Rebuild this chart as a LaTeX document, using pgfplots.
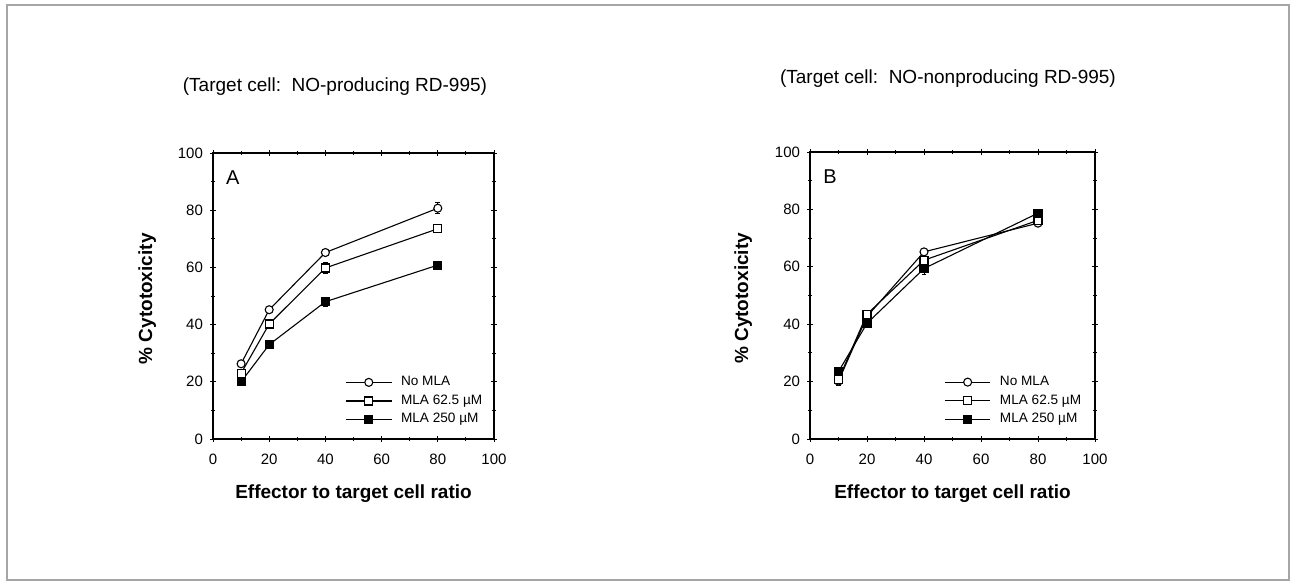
\documentclass[border=0pt]{standalone}
\usepackage{fontspec}
\setmainfont{Liberation Sans}
\usepackage{pgfplots}
\pgfplotsset{compat=1.18}

\pgfplotsset{
  cytoaxis/.style={
    scale only axis,
    anchor=south west,
    xmin=0, xmax=100, ymin=0, ymax=100,
    xtick={0,20,...,100}, ytick={0,20,...,100},
    minor x tick num=1, minor y tick num=1,
    tick align=center,
    major tick length=3pt, minor tick length=2pt,
    axis line style={line width=0.6pt},
    tick style={black, line width=0.5pt},
    tick label style={font=\fontsize{7.5}{8}\selectfont},
    /pgf/number format/assume math mode=true,
    xticklabel style={yshift=-2.5pt},
    xlabel={\textbf{Effector to target cell ratio}},
    ylabel={\textbf{\% Cytotoxicity}},
    label style={font=\fontsize{9.5}{10}\selectfont},
    xlabel style={at={(axis description cs:0.5,-0.19)}, anchor=center},
    ylabel style={at={(axis description cs:-0.234,0.49)}, anchor=center},
    title style={font=\fontsize{9.5}{10}\selectfont, anchor=center},
    legend style={draw=none, fill=none, font=\fontsize{6.8}{7}\selectfont,
      at={(rel axis cs:0.47,0.235)}, anchor=north west,
      row sep=-0.9pt, column sep=2.5pt, inner sep=0pt},
    legend cell align=left,
    legend image code/.code={
      \draw[mark repeat=2,mark phase=2] plot coordinates {(0cm,0cm)(0.4cm,0cm)(0.8cm,0cm)};},
    clip=false,
  },
  ser/.style={black, line width=0.55pt,
    error bars/y dir=both, error bars/y explicit,
    error bars/error bar style={line width=0.5pt},
    error bars/error mark options={rotate=90, mark size=1.2pt, line width=0.5pt}},
  nomla/.style={ser, mark=*, mark size=2pt, mark options={fill=white, solid}},
  mla62/.style={ser, mark=square*, mark size=2pt, mark options={fill=white, solid}},
  mla250/.style={ser, mark=square*, mark size=2pt, mark options={fill=black, solid}},
}

\begin{document}
\begin{tikzpicture}
\path (0,0) rectangle (648pt,292.5pt);
\draw[gray!70, line width=0.6pt] (3.5pt,2.5pt) rectangle (644.5pt,290pt);

% Panel A
\begin{axis}[cytoaxis,
  at={(106.5pt,73pt)}, width=140.5pt, height=143pt,
  title={(Target cell:\ \ NO-producing RD-995)},
  title style={at={(axis description cs:0.434,1.189)}},
]
\addplot[nomla] coordinates {(10,26.3) (20,45.2) (40,65.2) (80,80.7) +- (0,2)};
\addlegendentry{No MLA}
\addplot[mla62] coordinates {(10,23) (20,40.2) (40,59.8) +- (0,2) (80,73.5)};
\addlegendentry{MLA 62.5 µM}
\addplot[mla250] coordinates {(10,20) (20,33) (40,48) +- (0,1.5) (80,60.8)};
\addlegendentry{MLA 250 µM}
\node[font=\fontsize{10}{11}\selectfont] at (rel axis cs:0.07,0.915) {A};
\end{axis}

% Panel B
\begin{axis}[cytoaxis,
  at={(405pt,73pt)}, width=142.5pt, height=143.5pt,
  title={(Target cell:\ \ NO-nonproducing RD-995)},
  title style={at={(axis description cs:0.484,1.213)}},
]
\addplot[nomla] coordinates {(10,20.2) +- (0,1.5) (20,42.7) (40,65.2) (80,75.2)};
\addlegendentry{No MLA}
\addplot[mla62] coordinates {(10,20.8) (20,43.5) (40,62.3) (80,76.2)};
\addlegendentry{MLA 62.5 µM}
\addplot[mla250] coordinates {(10,23.5) (20,40.3) (40,59.4) +- (0,2) (80,78.7)};
\addlegendentry{MLA 250 µM}
\node[font=\fontsize{10}{11}\selectfont] at (rel axis cs:0.07,0.915) {B};
\end{axis}
\end{tikzpicture}
\end{document}
